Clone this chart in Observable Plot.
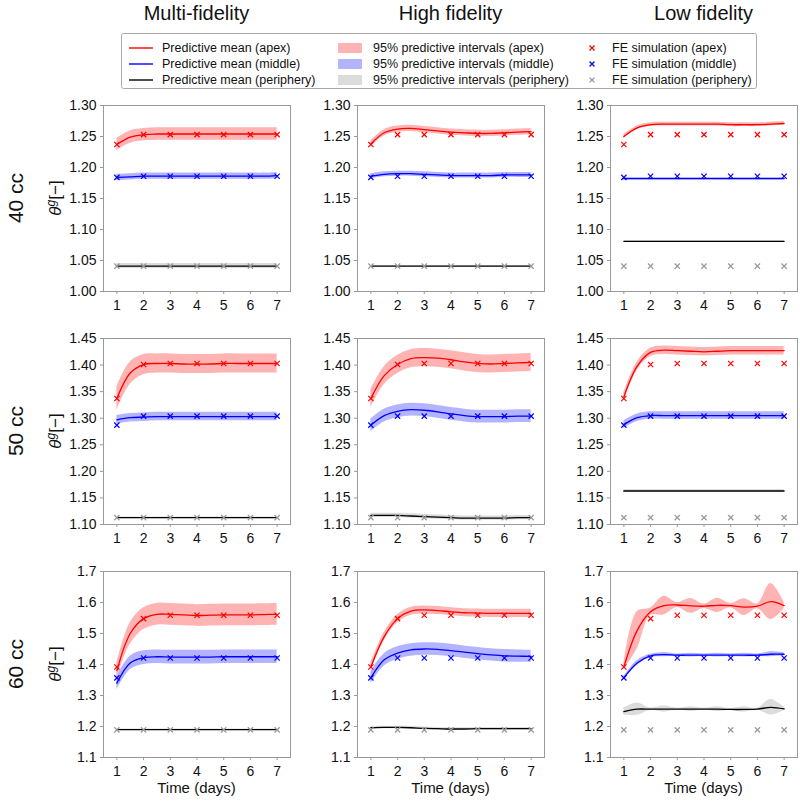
<!DOCTYPE html>
<html>
<head>
<meta charset="utf-8">
<script src="https://cdn.jsdelivr.net/npm/d3@7"></script>
<script src="https://cdn.jsdelivr.net/npm/@observablehq/plot@0.6"></script>
<style>
  html, body { margin: 0; padding: 0; background: #fff; }
  #root { position: relative; width: 800px; height: 802px; font-family: "Liberation Sans", Arial, sans-serif; overflow: hidden; }
  .panel { position: absolute; }
  #overlay { position: absolute; left: 0; top: 0; pointer-events: none; }
</style>
</head>
<body>
<div id="root"><svg id="overlay" width="800" height="802"></svg></div>
<script>
// ---------------- DATA ----------------
const colTitles = ["Multi-fidelity", "High fidelity", "Low fidelity"];
const rowTitles = ["40 cc", "50 cc", "60 cc"];
const days = [1, 2, 3, 4, 5, 6, 7];
const tGrid = [1, 1.5, 2, 2.5, 3, 3.5, 4, 4.5, 5, 5.5, 6, 6.5, 7];

const yDomain40 = [1.00, 1.30];
const yTicks40 = [1.00, 1.05, 1.10, 1.15, 1.20, 1.25, 1.30];
const yDomain50 = [1.10, 1.45];
const yTicks50 = [1.10, 1.15, 1.20, 1.25, 1.30, 1.35, 1.40, 1.45];
const yDomain60 = [1.1, 1.7];
const yTicks60 = [1.1, 1.2, 1.3, 1.4, 1.5, 1.6, 1.7];

// FE simulation values (same in every column of a row)
const fe40Apex = [1.237, 1.253, 1.253, 1.253, 1.253, 1.253, 1.253];
const fe40Middle = [1.184, 1.186, 1.186, 1.186, 1.186, 1.186, 1.186];
const fe40Periphery = [1.041, 1.041, 1.041, 1.041, 1.041, 1.041, 1.041];
const fe50Apex = [1.337, 1.401, 1.403, 1.403, 1.403, 1.403, 1.403];
const fe50Middle = [1.287, 1.304, 1.304, 1.304, 1.304, 1.304, 1.304];
const fe50Periphery = [1.113, 1.113, 1.113, 1.113, 1.113, 1.113, 1.113];
const fe60Apex = [1.392, 1.548, 1.559, 1.559, 1.559, 1.559, 1.559];
const fe60Middle = [1.357, 1.421, 1.421, 1.421, 1.421, 1.421, 1.421];
const fe60Periphery = [1.189, 1.189, 1.189, 1.189, 1.189, 1.189, 1.189];

// Predictive means on tGrid and 95% half-widths
// 40 cc — multi-fidelity
const mf40ApexMean = [1.237, 1.249, 1.253, 1.254, 1.254, 1.254, 1.254, 1.254, 1.254, 1.254, 1.254, 1.254, 1.254];
const mf40ApexCI = 0.010;
const mf40MiddleMean = [1.184, 1.185, 1.186, 1.186, 1.186, 1.186, 1.186, 1.186, 1.186, 1.186, 1.186, 1.186, 1.187];
const mf40MiddleCI = 0.005;
const mf40PeriMean = [1.041, 1.041, 1.041, 1.041, 1.041, 1.041, 1.041, 1.041, 1.041, 1.041, 1.041, 1.041, 1.041];
const mf40PeriCI = 0.004;
// 40 cc — high fidelity
const hf40ApexMean = [1.238, 1.256, 1.262, 1.263, 1.261, 1.259, 1.257, 1.256, 1.255, 1.255, 1.256, 1.257, 1.258];
const hf40ApexCI = 0.005;
const hf40MiddleMean = [1.186, 1.189, 1.190, 1.190, 1.189, 1.188, 1.187, 1.187, 1.187, 1.187, 1.188, 1.188, 1.188];
const hf40MiddleCI = 0.004;
const hf40PeriMean = [1.041, 1.041, 1.041, 1.041, 1.041, 1.041, 1.041, 1.041, 1.041, 1.041, 1.041, 1.041, 1.041];
const hf40PeriCI = 0.001;
// 40 cc — low fidelity
const lf40ApexMean = [1.250, 1.264, 1.269, 1.270, 1.270, 1.270, 1.270, 1.270, 1.269, 1.269, 1.269, 1.270, 1.271];
const lf40ApexCI = 0.003;
const lf40MiddleMean = [1.182, 1.182, 1.182, 1.182, 1.182, 1.182, 1.182, 1.182, 1.182, 1.182, 1.182, 1.182, 1.182];
const lf40MiddleCI = 0.002;
const lf40PeriMean = [1.081, 1.081, 1.081, 1.081, 1.081, 1.081, 1.081, 1.081, 1.081, 1.081, 1.081, 1.081, 1.081];
const lf40PeriCI = 0.001;

// 50 cc — multi-fidelity
const mf50ApexMean = [1.337, 1.385, 1.401, 1.403, 1.403, 1.402, 1.402, 1.402, 1.403, 1.403, 1.403, 1.403, 1.403];
const mf50ApexCI = [0.022, 0.021, 0.019, 0.018, 0.018, 0.018, 0.018, 0.018, 0.018, 0.018, 0.018, 0.018, 0.018];
const mf50MiddleMean = [1.297, 1.301, 1.302, 1.303, 1.303, 1.303, 1.303, 1.303, 1.303, 1.303, 1.303, 1.303, 1.303];
const mf50MiddleCI = 0.008;
const mf50PeriMean = [1.113, 1.113, 1.113, 1.113, 1.113, 1.113, 1.113, 1.113, 1.113, 1.113, 1.113, 1.113, 1.113];
const mf50PeriCI = 0.001;
// 50 cc — high fidelity
const hf50ApexMean = [1.337, 1.380, 1.401, 1.412, 1.414, 1.413, 1.410, 1.406, 1.403, 1.402, 1.403, 1.404, 1.405];
const hf50ApexCI = 0.017;
const hf50MiddleMean = [1.287, 1.305, 1.313, 1.316, 1.315, 1.312, 1.308, 1.305, 1.303, 1.303, 1.303, 1.304, 1.304];
const hf50MiddleCI = 0.012;
const hf50PeriMean = [1.117, 1.117, 1.117, 1.116, 1.115, 1.114, 1.113, 1.112, 1.112, 1.112, 1.112, 1.113, 1.113];
const hf50PeriCI = 0.004;
// 50 cc — low fidelity
const lf50ApexMean = [1.340, 1.398, 1.424, 1.428, 1.427, 1.426, 1.425, 1.426, 1.427, 1.427, 1.427, 1.427, 1.427];
const lf50ApexCI = 0.008;
const lf50MiddleMean = [1.288, 1.301, 1.305, 1.305, 1.305, 1.305, 1.305, 1.305, 1.305, 1.305, 1.305, 1.305, 1.305];
const lf50MiddleCI = 0.007;
const lf50PeriMean = [1.163, 1.163, 1.163, 1.163, 1.163, 1.163, 1.163, 1.163, 1.163, 1.163, 1.163, 1.163, 1.163];
const lf50PeriCI = 0.003;

// 60 cc — multi-fidelity
const mf60ApexMean = [1.380, 1.500, 1.548, 1.562, 1.562, 1.560, 1.558, 1.559, 1.560, 1.560, 1.560, 1.561, 1.562];
const mf60ApexCI = [0.025, 0.035, 0.035, 0.035, 0.035, 0.035, 0.035, 0.035, 0.035, 0.035, 0.035, 0.035, 0.035];
const mf60MiddleMean = [1.340, 1.405, 1.422, 1.425, 1.424, 1.424, 1.424, 1.424, 1.425, 1.425, 1.425, 1.425, 1.425];
const mf60MiddleCI = 0.022;
const mf60PeriMean = [1.190, 1.190, 1.190, 1.190, 1.190, 1.190, 1.190, 1.190, 1.190, 1.190, 1.190, 1.190, 1.190];
const mf60PeriCI = 0.002;
// 60 cc — high fidelity
const hf60ApexMean = [1.392, 1.490, 1.548, 1.572, 1.576, 1.574, 1.570, 1.567, 1.566, 1.565, 1.565, 1.565, 1.565];
const hf60ApexCI = 0.013;
const hf60MiddleMean = [1.357, 1.415, 1.437, 1.447, 1.450, 1.449, 1.445, 1.440, 1.435, 1.431, 1.428, 1.427, 1.426];
const hf60MiddleCI = 0.020;
const hf60PeriMean = [1.196, 1.197, 1.197, 1.196, 1.194, 1.193, 1.192, 1.192, 1.193, 1.193, 1.193, 1.193, 1.193];
const hf60PeriCI = 0.004;
// 60 cc — low fidelity
const lf60ApexMean = [1.392, 1.510, 1.570, 1.590, 1.592, 1.589, 1.588, 1.591, 1.590, 1.585, 1.588, 1.603, 1.590];
const lf60ApexCI = [0.008, 0.060, 0.012, 0.030, 0.008, 0.024, 0.007, 0.023, 0.007, 0.027, 0.008, 0.058, 0.010];
const lf60MiddleMean = [1.357, 1.405, 1.428, 1.432, 1.430, 1.430, 1.430, 1.430, 1.430, 1.430, 1.430, 1.433, 1.433];
const lf60MiddleCI = [0.004, 0.008, 0.005, 0.007, 0.004, 0.006, 0.004, 0.006, 0.004, 0.006, 0.004, 0.008, 0.005];
const lf60PeriMean = [1.248, 1.256, 1.256, 1.256, 1.256, 1.256, 1.256, 1.256, 1.255, 1.255, 1.256, 1.262, 1.257];
const lf60PeriCI = [0.012, 0.020, 0.004, 0.010, 0.003, 0.008, 0.003, 0.008, 0.003, 0.009, 0.003, 0.025, 0.005];

// ---------------- STYLE ----------------
const lineColors = {apex: "#ff0000", middle: "#0000ff", periphery: "#000000"};
const bandColors = {apex: "#ffb3b3", middle: "#b3b3ff", periphery: "#dcdcdc"};
const markColors = {apex: "#ff0000", middle: "#0000ff", periphery: "#999999"};
const FONT = "'Liberation Sans', Arial, sans-serif";

function ser(mean, ci) {
  return tGrid.map((t, i) => {
    const h = Array.isArray(ci) ? ci[i] : ci;
    return {t, m: mean[i], lo: mean[i] - h, hi: mean[i] + h};
  });
}
function fe(vals) { return days.map((t, i) => ({t, v: vals[i]})); }

const rowsCfg = [
  {dom: yDomain40, ticks: yTicks40, fmt: ".2f", fe: {apex: fe40Apex, middle: fe40Middle, periphery: fe40Periphery},
   cols: [
     {apex: ser(mf40ApexMean, mf40ApexCI), middle: ser(mf40MiddleMean, mf40MiddleCI), periphery: ser(mf40PeriMean, mf40PeriCI)},
     {apex: ser(hf40ApexMean, hf40ApexCI), middle: ser(hf40MiddleMean, hf40MiddleCI), periphery: ser(hf40PeriMean, hf40PeriCI)},
     {apex: ser(lf40ApexMean, lf40ApexCI), middle: ser(lf40MiddleMean, lf40MiddleCI), periphery: ser(lf40PeriMean, lf40PeriCI)}
   ]},
  {dom: yDomain50, ticks: yTicks50, fmt: ".2f", fe: {apex: fe50Apex, middle: fe50Middle, periphery: fe50Periphery},
   cols: [
     {apex: ser(mf50ApexMean, mf50ApexCI), middle: ser(mf50MiddleMean, mf50MiddleCI), periphery: ser(mf50PeriMean, mf50PeriCI)},
     {apex: ser(hf50ApexMean, hf50ApexCI), middle: ser(hf50MiddleMean, hf50MiddleCI), periphery: ser(hf50PeriMean, hf50PeriCI)},
     {apex: ser(lf50ApexMean, lf50ApexCI), middle: ser(lf50MiddleMean, lf50MiddleCI), periphery: ser(lf50PeriMean, lf50PeriCI)}
   ]},
  {dom: yDomain60, ticks: yTicks60, fmt: ".1f", fe: {apex: fe60Apex, middle: fe60Middle, periphery: fe60Periphery},
   cols: [
     {apex: ser(mf60ApexMean, mf60ApexCI), middle: ser(mf60MiddleMean, mf60MiddleCI), periphery: ser(mf60PeriMean, mf60PeriCI)},
     {apex: ser(hf60ApexMean, hf60ApexCI), middle: ser(hf60MiddleMean, hf60MiddleCI), periphery: ser(hf60PeriMean, hf60PeriCI)},
     {apex: ser(lf60ApexMean, lf60ApexCI), middle: ser(lf60MiddleMean, lf60MiddleCI), periphery: ser(lf60PeriMean, lf60PeriCI)}
   ]}
];

// layout
const frameLeft = [103, 357, 610];
const frameTop = [105, 338, 571];
const frameW = 187, frameH = 186;
const mL = 50, mR = 3, mT = 5, mB = 26;
const keys = ["periphery", "middle", "apex"];

const root = document.getElementById("root");
rowsCfg.forEach((rc, ri) => {
  rc.cols.forEach((cc, ci) => {
    const marks = [];
    for (const k of keys) marks.push(Plot.area(cc[k], {x1: "t", y1: "lo", y2: "hi", fill: bandColors[k], curve: "catmull-rom", clip: true}));
    for (const k of keys) marks.push(Plot.line(cc[k], {x: "t", y: "m", stroke: lineColors[k], strokeWidth: 1.3, curve: "catmull-rom", clip: true}));
    for (const k of keys) marks.push(Plot.dot(fe(rc.fe[k]), {x: "t", y: "v", symbol: "times", r: 2.5, stroke: markColors[k], strokeWidth: 1.2}));
    marks.push(Plot.frame({stroke: "#999", strokeWidth: 1}));
    marks.push(Plot.axisX({ticks: days, tickSize: 3, tickPadding: 6, stroke: "#999", fill: "#111", label: null, tickFormat: d3.format("d")}));
    marks.push(Plot.axisY({ticks: rc.ticks, tickSize: 3, tickPadding: 4, stroke: "#999", fill: "#111", label: null, tickFormat: d3.format(rc.fmt)}));
    const chart = Plot.plot({
      width: mL + frameW + mR,
      height: mT + frameH + mB,
      marginLeft: mL, marginRight: mR, marginTop: mT, marginBottom: mB,
      x: {domain: [0.5, 7.5]},
      y: {domain: rc.dom},
      style: {fontSize: "14px", fontFamily: FONT, background: "transparent", overflow: "visible", color: "#111"},
      marks
    });
    chart.classList.add("panel");
    chart.style.left = (frameLeft[ci] - mL) + "px";
    chart.style.top = (frameTop[ri] - mT) + "px";
    root.insertBefore(chart, document.getElementById("overlay"));
  });
});

// ---------------- TEXT / LEGEND OVERLAY ----------------
const ov = d3.select("#overlay").style("font-family", FONT);
colTitles.forEach((t, i) => {
  ov.append("text").attr("x", frameLeft[i] + frameW / 2).attr("y", 20).attr("text-anchor", "middle")
    .attr("font-size", 20).attr("fill", "#111").text(t);
});
rowTitles.forEach((t, i) => {
  const cy = frameTop[i] + frameH / 2;
  ov.append("text").attr("transform", `translate(23,${cy}) rotate(-90)`).attr("text-anchor", "middle")
    .attr("font-size", 21).attr("fill", "#111").text(t);
  const yl = ov.append("text").attr("transform", `translate(61,${cy}) rotate(-90)`).attr("text-anchor", "middle")
    .attr("font-size", 17).attr("fill", "#111");
  yl.append("tspan").attr("font-style", "italic").text("θ");
  yl.append("tspan").attr("font-style", "italic").attr("font-size", 12).attr("dy", -6).text("g");
  yl.append("tspan").attr("dy", 6).text("[−]");
});
frameLeft.forEach(fl => {
  ov.append("text").attr("x", fl + frameW / 2).attr("y", 793).attr("text-anchor", "middle")
    .attr("font-size", 15).attr("fill", "#111").text("Time (days)");
});

// legend
const legendLabels = {
  mean: ["Predictive mean (apex)", "Predictive mean (middle)", "Predictive mean (periphery)"],
  band: ["95% predictive intervals (apex)", "95% predictive intervals (middle)", "95% predictive intervals (periphery)"],
  fe: ["FE simulation (apex)", "FE simulation (middle)", "FE simulation (periphery)"]
};
const lg = ov.append("g");
lg.append("rect").attr("x", 121.5).attr("y", 33.5).attr("width", 635).attr("height", 55)
  .attr("fill", "#fff").attr("stroke", "#aaa").attr("rx", 2);
const legKeys = ["apex", "middle", "periphery"];
legKeys.forEach((k, i) => {
  const cy = 48 + i * 16;
  lg.append("line").attr("x1", 129).attr("x2", 153).attr("y1", cy).attr("y2", cy).attr("stroke", lineColors[k]).attr("stroke-width", 1.4);
  lg.append("text").attr("x", 162).attr("y", cy).attr("dy", "0.35em").attr("font-size", 12.5).attr("fill", "#111").text(legendLabels.mean[i]);
  lg.append("rect").attr("x", 338).attr("y", cy - 5).attr("width", 24).attr("height", 10).attr("fill", bandColors[k]);
  lg.append("text").attr("x", 373).attr("y", cy).attr("dy", "0.35em").attr("font-size", 12.5).attr("fill", "#111").text(legendLabels.band[i]);
  lg.append("path").attr("d", `M${592-2.5},${cy-2.5}L${592+2.5},${cy+2.5}M${592-2.5},${cy+2.5}L${592+2.5},${cy-2.5}`).attr("stroke", markColors[k]).attr("stroke-width", 1.2);
  lg.append("text").attr("x", 612).attr("y", cy).attr("dy", "0.35em").attr("font-size", 12.5).attr("fill", "#111").text(legendLabels.fe[i]);
});
</script>
</body>
</html>
